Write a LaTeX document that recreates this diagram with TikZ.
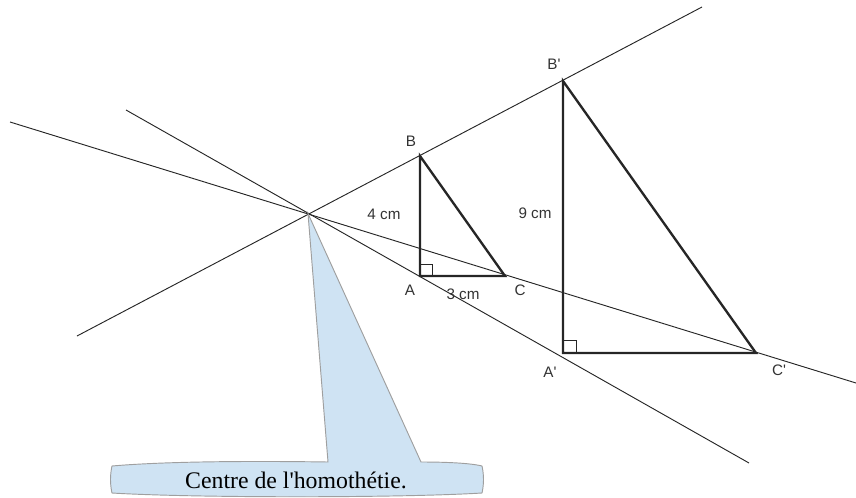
\documentclass[tikz,border=0pt]{standalone}
\usepackage{fontspec}
\setmainfont{Liberation Serif}
\setsansfont{Liberation Sans}
\usepackage{xcolor}
\usepackage{tikz}
\usetikzlibrary{calc,positioning}
\definecolor{bubblefill}{RGB}{207,227,243}

\begin{document}
\begin{tikzpicture}[
    x=0.03cm, y=-0.03cm,
    ray/.style={draw=black!85, line width=0.8pt},
    tri/.style={draw=black!85, line width=2pt, line join=miter},
    rightangle/.style={draw=black!85, line width=0.7pt},
    lbl/.style={font=\sffamily\fontsize{13}{15}\selectfont, text=black!80, inner sep=0pt},
    bubble/.style={draw=gray!75, fill=bubblefill, line width=0.8pt},
    caption/.style={font=\fontsize{20.3}{24}\selectfont, inner sep=0pt, anchor=base}
]
    \useasboundingbox (0,0) rectangle (856,498);

    \coordinate (O) at (308,213.5);
    \coordinate (A) at (420,276);
    \coordinate (B) at (420,156);
    \coordinate (C) at (505,276);
    \coordinate (Ap) at (563,353);
    \coordinate (Bp) at (563,81);
    \coordinate (Cp) at (756,353);

    \coordinate (rayBw) at (77,336);
    \coordinate (rayBe) at (702,7);
    \coordinate (rayAw) at (126,110);
    \coordinate (rayAe) at (749,463);
    \coordinate (rayCw) at (10,122);
    \coordinate (rayCe) at (856,383);

    \draw[ray] (rayBw) -- (rayBe);
    \draw[ray] (rayAw) -- (rayAe);
    \draw[ray] (rayCw) -- (rayCe);

    \draw[rightangle] (A) rectangle ++(12,-12);
    \draw[rightangle] (Ap) rectangle ++(13,-13);
    \draw[tri] (A) -- (B) -- (C) -- cycle;
    \draw[tri] (Ap) -- (Bp) -- (Cp) -- cycle;

    \node[lbl] (labB) at (411,141) {B};
    \node[lbl] (labA) at (410,290) {A};
    \node[lbl] (labC) at (520,290) {C};
    \node[lbl] (labAB) at (384,214) {4 cm};
    \node[lbl] (labAC) at (463,294) {3 cm};
    \node[lbl] (labBp) at (554,64) {B\textquotesingle};
    \node[lbl] (labAp) at (550,372) {A\textquotesingle};
    \node[lbl] (labCp) at (779,370) {C\textquotesingle};
    \node[lbl] (labApBp) at (535,213) {9 cm};

    \draw[bubble] (112,466) .. controls (170,461) and (260,461) .. (328,462) -- (O) -- (421,462)
        .. controls (445,462) and (470,463) .. (482,466)
        .. controls (484,475) and (484,484) .. (482,493)
        .. controls (400,498) and (194,498) .. (112,493)
        .. controls (110,484) and (110,475) .. (112,466) -- cycle;
    \node[caption] (centre) at (296,488) {Centre de l\textquotesingle homothétie.};
\end{tikzpicture}
\end{document}
